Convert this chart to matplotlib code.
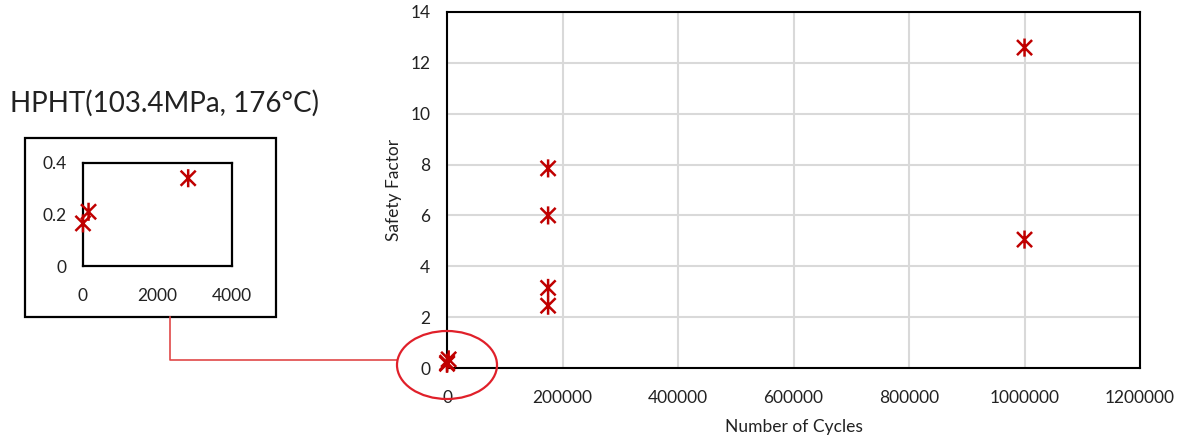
import numpy as np
import matplotlib
matplotlib.use("Agg")
import matplotlib.pyplot as plt
from matplotlib.path import Path
from matplotlib.patches import Ellipse, Rectangle
from matplotlib.lines import Line2D

plt.rcParams['font.family'] = ['Lato', 'DejaVu Sans']

# data
cycles = [0, 150, 2830, 175000, 175000, 175000, 175000, 1000000, 1000000]
safety = [0.165, 0.21, 0.34, 7.85, 6.0, 3.15, 2.45, 12.6, 5.05]
inset_cycles = [0, 150, 2830]
inset_safety = [0.165, 0.21, 0.34]
x_ticks = [0, 200000, 400000, 600000, 800000, 1000000, 1200000]
y_ticks = [0, 2, 4, 6, 8, 10, 12, 14]
inset_x_ticks = [0, 2000, 4000]
inset_y_ticks = [0, 0.2, 0.4]
inset_y_labels = ["0", "0.2", "0.4"]
title = "HPHT(103.4MPa, 176°C)"

mk_col = "#c00000"
# excel style star: an x with a vertical stroke
star = Path([(-1, -1), (1, 1), (-1, 1), (1, -1), (0, -1.2), (0, 1.2)],
            [Path.MOVETO, Path.LINETO, Path.MOVETO, Path.LINETO, Path.MOVETO, Path.LINETO])

fig = plt.figure(figsize=(11.82, 4.41), dpi=100)

# main chart
ax = fig.add_axes([0.3782, 0.1655, 0.5863, 0.8073])
ax.scatter(cycles, safety, marker=star, s=170, facecolors="none",
           edgecolors=mk_col, linewidths=1.8, zorder=3, clip_on=False)
ax.set_xlim(0, 1200000)
ax.set_ylim(0, 14)
ax.set_xticks(x_ticks)
ax.set_yticks(y_ticks)
ax.set_xticklabels([str(v) for v in x_ticks])
ax.grid(True, color="#d9d9d9", linewidth=1.5)
ax.set_axisbelow(True)
for sp in ax.spines.values():
    sp.set_color("black")
    sp.set_linewidth(1.5)
ax.tick_params(axis="x", length=0, labelsize=12.5, pad=16, colors="#222222")
ax.tick_params(axis="y", length=0, labelsize=12.5, pad=12, colors="#222222")
ax.set_xlabel("Number of Cycles", fontsize=12.5, labelpad=9, color="#222222")
ax.set_ylabel("Safety Factor", fontsize=12.5, labelpad=6, color="#222222")

# inset frame and small chart
fig.add_artist(Rectangle((0.02115, 0.2812), 0.2124, 0.4059, transform=fig.transFigure,
                         fill=False, edgecolor="black", linewidth=1.6))
axi = fig.add_axes([0.0702, 0.3968, 0.1258, 0.2342])
axi.scatter(inset_cycles, inset_safety, marker=star, s=170, facecolors="none",
            edgecolors=mk_col, linewidths=1.8, zorder=3, clip_on=False)
axi.set_xlim(0, 4000)
axi.set_ylim(0, 0.4)
axi.set_xticks(inset_x_ticks)
axi.set_yticks(inset_y_ticks)
axi.set_yticklabels(inset_y_labels)
for sp in axi.spines.values():
    sp.set_color("black")
    sp.set_linewidth(1.6)
axi.tick_params(axis="x", length=0, labelsize=12.5, pad=16, colors="#222222")
axi.tick_params(axis="y", length=0, labelsize=12.5, pad=12, colors="#222222")

fig.text(0.0085, 0.765, title, fontsize=20, color="#222222", ha="left", va="center")

# red zoom marker and connector
fig.add_artist(Ellipse((447 / 1182, 1 - 365 / 441), 100 / 1182, 68 / 441,
                       transform=fig.transFigure, fill=False,
                       edgecolor="#e0202a", linewidth=1.6, zorder=5))
fig.add_artist(Line2D([170 / 1182, 170 / 1182, 397 / 1182],
                      [1 - 317 / 441, 1 - 360 / 441, 1 - 360 / 441],
                      transform=fig.transFigure, color="#e04848", linewidth=1.2))

fig.savefig("out.png", dpi=100)
